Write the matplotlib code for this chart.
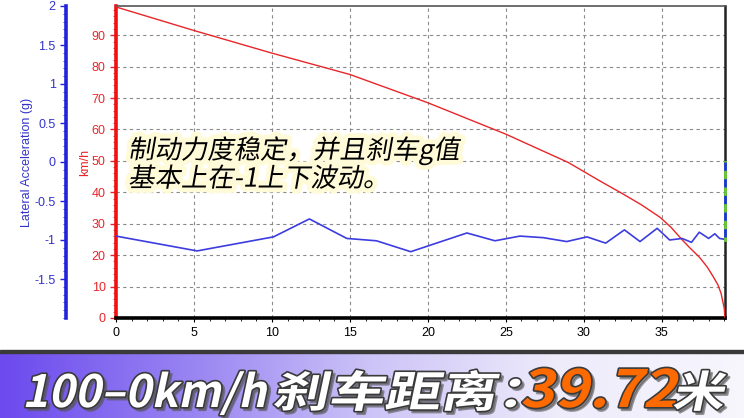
import numpy as np
import matplotlib.pyplot as plt
from matplotlib import patheffects as pe
from matplotlib.colors import LinearSegmentedColormap, to_rgba
from matplotlib.patches import Rectangle
from matplotlib.ticker import MultipleLocator
from matplotlib.transforms import Affine2D

plt.rcParams['font.family'] = ['Liberation Sans', 'Noto Sans CJK SC', 'DejaVu Sans']

# speed trace (km/h) against distance (m)
dist_speed = [0, 5, 10, 15, 20, 25, 29, 31, 32.5, 33.7, 34.9, 35.6, 36.3, 36.8, 37.4, 37.9,
              38.3, 38.6, 38.8, 39.0, 39.05]
speed = [99, 91.5, 84.3, 77.5, 68.5, 58.5, 49.5, 43.7, 39.5, 36, 32, 28.8, 24.9, 22.3, 19.4, 16.3,
         13.1, 10.5, 7.8, 3.1, 0]

# lateral acceleration (g) against distance (m)
dist_lat = [0, 5.2, 10.1, 12.4, 14.8, 16.7, 18.9, 22.5, 24.3, 25.9, 27.4, 28.9, 30.2,
            31.4, 32.6, 33.6, 34.7, 35.5, 36.3, 36.9, 37.4, 38.0, 38.4, 38.7, 39.0]
lat_g = [-0.95, -1.14, -0.96, -0.73, -0.98, -1.01, -1.15, -0.91, -1.01, -0.95, -0.97, -1.02, -0.96,
         -1.04, -0.87, -1.02, -0.85, -1.0, -0.98, -1.03, -0.90, -0.98, -0.92, -0.98, -0.99]

speed_ticks = [0, 10, 20, 30, 40, 50, 60, 70, 80, 90]
g_ticks = [2, 1.5, 1, 0.5, 0, -0.5, -1, -1.5]
g_labels = ['2', '1.5', '1', '0.5', '0', '-0.5', '-1', '-1.5']
x_ticks = [0, 5, 10, 15, 20, 25, 30, 35]

note = '制动力度稳定，并且刹车g值\n基本上在-1上下波动。'
# banner pieces: text, colour, size (pt), horizontal stretch, left edge (px)
title_parts = ['100–0km/h', '刹车距离：', '39.72', '米']
title_colors = ['white', 'white', '#ff6a00', 'white']
title_sizes = [32, 31, 37, 31]
title_stretch = [1.0, 1.3, 1.14, 1.2]
title_left = [22, 272, 520, 672]


class Slant(pe.Stroke):
    """stroke/fill effect that leans (fake italic) and widens the glyphs"""
    def __init__(self, deg=12, sx=1.0, offset=(0, 0), face=None, **kwargs):
        super().__init__(offset=offset, **kwargs)
        self._deg = deg
        self._sx = sx
        self._face = face

    def draw_path(self, renderer, gc, tpath, affine, rgbFace=None):
        x0, y0 = affine.transform((0, 0))
        skew = (Affine2D().translate(-x0, -y0).scale(self._sx, 1)
                .skew_deg(self._deg, 0).translate(x0, y0))
        gc0 = renderer.new_gc()
        gc0.copy_properties(gc)
        gc0 = self._update_gc(gc0, self._gc)
        face = to_rgba(self._face) if self._face is not None else rgbFace
        renderer.draw_path(gc0, tpath, affine + skew + self._offset_transform(renderer), face)
        gc0.restore()


W, H = 744, 418
fig = plt.figure(figsize=(W / 100, H / 100), dpi=100)
fig.patch.set_facecolor('white')

ax = fig.add_axes([116 / W, (H - 318) / H, (725 - 116) / W, (318 - 6) / H])
ax.plot(dist_speed, speed, color='#e8262a', lw=1.0, zorder=3)
ax.set_xlim(0, 39.05)
ax.set_ylim(0, 99.3)
ax.set_xticks(x_ticks)
ax.set_yticks(speed_ticks)
ax.xaxis.set_minor_locator(MultipleLocator(1))
ax.yaxis.set_minor_locator(MultipleLocator(2))
ax.grid(True, which='major', color='#8a8a8a', ls=(0, (3, 3)), lw=0.8)
ax.tick_params(axis='y', colors='#e8262a', labelsize=9, length=4, width=1)
ax.tick_params(axis='y', which='minor', colors='#e8262a', length=2)
ax.tick_params(axis='x', labelsize=9, length=3, colors='black')
ax.tick_params(axis='x', which='minor', length=2)
for lab in ax.get_yticklabels():
    lab.set_color('#e8262a')
ax.spines['left'].set_color('#f01010')
ax.spines['left'].set_linewidth(2.6)
ax.spines['bottom'].set_color('black')
ax.spines['bottom'].set_linewidth(2.6)
ax.spines['top'].set_color('#555555')
ax.spines['top'].set_linewidth(1.2)
ax.spines['right'].set_color('#222222')
ax.spines['right'].set_linewidth(1.8)
ax.set_ylabel('km/h', color='#e8262a', fontsize=9, labelpad=0)
ax.set_xlabel('metres', fontsize=9, labelpad=14)

ax2 = ax.twinx()
ax2.plot(dist_lat, lat_g, color='#3c3ce0', lw=1.2, zorder=4)
ax2.set_ylim(-2, 2)
ax2.yaxis.tick_left()
ax2.yaxis.set_label_position('left')
ax2.spines['left'].set_position(('axes', -50 / 609))
ax2.spines['left'].set_visible(True)
ax2.spines['left'].set_color('#2222dd')
ax2.spines['left'].set_linewidth(2.6)
for s in ['right', 'top', 'bottom']:
    ax2.spines[s].set_visible(False)
ax2.set_yticks(g_ticks)
ax2.set_yticklabels(g_labels)
ax2.yaxis.set_minor_locator(MultipleLocator(0.1))
ax2.tick_params(axis='y', colors='#2222dd', labelsize=9, length=4, width=1)
ax2.tick_params(axis='y', which='minor', colors='#2222dd', length=2)
for lab in ax2.get_yticklabels():
    lab.set_color('#3333cc')
ax2.set_ylabel('Lateral Acceleration (g)', color='#3333cc', fontsize=9, labelpad=1)
# coloured marker on the right edge between 0 and -1 g
ax2.plot([39.05, 39.05], [0, -1], color='#66cc33', lw=2, clip_on=False, zorder=5)
ax2.plot([39.05, 39.05], [0, -1], color='#2233dd', lw=2, ls=(0, (3, 3)), clip_on=False, zorder=6)

fig.text(128 / W, (H - 136) / H, note, fontsize=19, color='black', va='top', ha='left',
         family=['Noto Sans CJK SC', 'DejaVu Sans'], linespacing=1.05, zorder=10,
         path_effects=[Slant(10, linewidth=7, foreground='#fffbd8'), Slant(10)])

# banner
band_h = 65
bax = fig.add_axes([0, 0, 1, band_h / H])
grad = np.linspace(0, 1, 256)[None, :]
cmap = LinearSegmentedColormap.from_list('', ['#6c4aee', '#9783f2', '#cdc4f7', '#eeebfb', '#f7f6fd'])
bax.imshow(grad, aspect='auto', cmap=cmap, extent=[0, 1, 0, 1])
bax.set_xlim(0, 1)
bax.set_ylim(0, 1)
bax.axis('off')
fig.add_artist(Rectangle((0, band_h / H), 1, 3 / H, color='#3a3a3a', transform=fig.transFigure, zorder=20))

for part, col, size, sx, x in zip(title_parts, title_colors, title_sizes, title_stretch, title_left):
    fx = [Slant(12, sx, offset=(2, -2), linewidth=2, foreground='#555555', face='#555555', alpha=0.6),
          Slant(12, sx, linewidth=2.4, foreground='#3a3a3a'),
          Slant(12, sx)]
    fig.text(x / W, (H - 407) / H, part, color=col, fontsize=size, weight='heavy',
             family=['Noto Sans CJK SC', 'DejaVu Sans'], va='baseline', ha='left',
             zorder=30, path_effects=fx)

fig.savefig('out.png', dpi=100)
